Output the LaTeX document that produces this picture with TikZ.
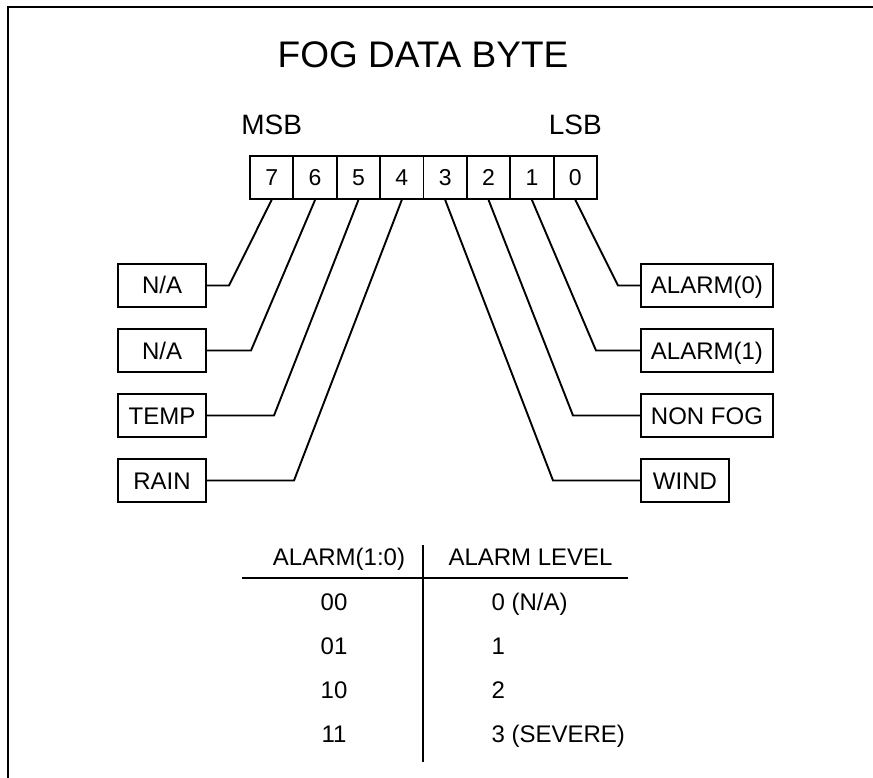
\documentclass[tikz,border=0pt]{standalone}
\usepackage{fontspec}
\setmainfont{Liberation Sans}
\usetikzlibrary{positioning}

\tikzset{
  bit/.style={draw, line width=1.9pt, minimum width=43.4pt, minimum height=43pt,
    inner sep=0pt, font=\fontsize{23}{27}\selectfont},
  field/.style={draw, line width=1.9pt, minimum width=88pt, minimum height=43pt,
    inner xsep=10pt, text height=17pt, text depth=0pt, font=\fontsize{24}{28}\selectfont},
  tab/.style={anchor=base, font=\fontsize{24}{28}\selectfont},
  wire/.style={line width=1.9pt}
}

\begin{document}
\begin{tikzpicture}[x=1pt, y=-1pt]
   \useasboundingbox (0,0) rectangle (873,778);
   \draw[line width=2.5pt] (8,778) -- (8,7) -- (873,7);

   \node[anchor=base, font=\fontsize{37}{44}\selectfont] (title) at (423,68) {FOG DATA BYTE};

   % the byte, bit 7 on the left
   \foreach \i in {0,...,7}
   \node[bit] (b\i) at (575.3-43.375*\i, 177.5) {\i};

   \node[anchor=base, font=\fontsize{28}{33}\selectfont] (msb) at ([yshift=21pt]b7.north) {MSB};
   \node[anchor=base, font=\fontsize{28}{33}\selectfont] (lsb) at ([yshift=21pt]b0.north) {LSB};

   \node[field, anchor=east] (f7) at (207,285.5) {N/A};
   \node[field, anchor=east] (f6) at (207,350.5) {N/A};
   \node[field, anchor=east] (f5) at (207,415.5) {TEMP};
   \node[field, anchor=east] (f4) at (207,480.5) {RAIN};
   \node[field, anchor=west] (f0) at (640,285.5) {ALARM(0)};
   \node[field, anchor=west] (f1) at (640,350.5) {ALARM(1)};
   \node[field, anchor=west] (f2) at (640,415.5) {NON FOG};
   \node[field, anchor=west] (f3) at (640,480.5) {WIND};

   \foreach \b/\d in {7/22,6/44,5/67,4/87}
   \draw[wire] (b\b.south) -- ([xshift=\d pt]f\b.east) -- (f\b.east);
   \foreach \b/\d in {0/22,1/44,2/67,3/87}
   \draw[wire] (b\b.south) -- ([xshift=-\d pt]f\b.west) -- (f\b.west);

   % alarm table
   \coordinate (vtop) at (423,545);
   \coordinate (vbot) at (423,762);
   \coordinate (hl) at (242,578);
   \coordinate (hr) at (628,578);
   \draw[wire] (vtop) -- (vbot);
   \draw[wire] (hl) -- (hr);

   \node[tab] (code) at (339,565) {ALARM(1:0)};
   \node[tab, anchor=base west] (level) at (445,565) {ALARM LEVEL};
   \foreach \c/\l [count=\r from 0] in {00/{0 (N/A)}, 01/1, 10/2, 11/{3 (SEVERE)}}
   {
   \node[tab] (c\r) at (334, 610+44.3*\r) {\c};
   \node[tab, anchor=base west] (l\r) at (488, 610+44.3*\r) {\l};
   }

\end{tikzpicture}
\end{document}
